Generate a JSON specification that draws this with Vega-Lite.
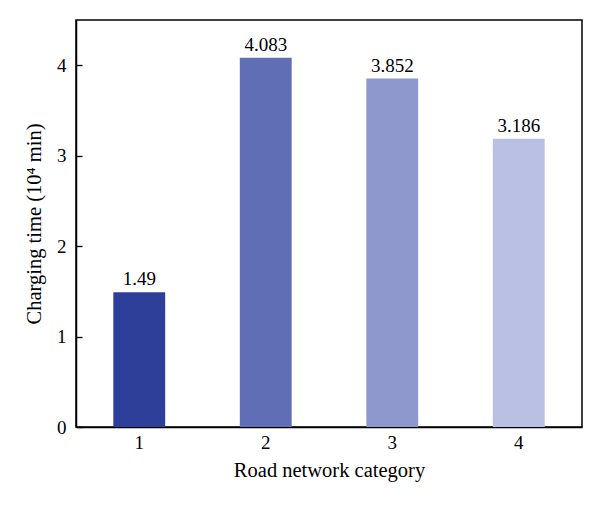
{
  "$schema": "https://vega.github.io/schema/vega-lite/v6.json",
  "autosize": "none",
  "padding": {"left": 76, "top": 20, "right": 18, "bottom": 79},
  "width": 506,
  "height": 407,
  "background": "white",
  "data": {"values": [
    {"category": "1", "time": 1.49, "label": "1.49"},
    {"category": "2", "time": 4.083, "label": "4.083"},
    {"category": "3", "time": 3.852, "label": "3.852"},
    {"category": "4", "time": 3.186, "label": "3.186"}
  ]},
  "config": {
    "font": "Liberation Serif",
    "view": {"stroke": "black", "strokeWidth": 1.5},
    "axis": {
      "labelFont": "Liberation Serif",
      "titleFont": "Liberation Serif",
      "labelFontSize": 19,
      "titleFontSize": 20.5,
      "titleFontWeight": "normal",
      "labelColor": "black",
      "titleColor": "black",
      "domainColor": "black",
      "domainWidth": 1.5,
      "tickColor": "black",
      "tickWidth": 1.3,
      "grid": false
    }
  },
  "encoding": {
    "x": {
      "field": "category",
      "type": "nominal",
      "scale": {"paddingInner": 0.59, "paddingOuter": 0.295},
      "axis": {"title": "Road network category", "labelAngle": 0, "tickSize": -6, "labelPadding": 12, "titlePadding": 8}
    },
    "y": {
      "field": "time",
      "type": "quantitative",
      "scale": {"domain": [0, 4.5], "nice": false},
      "axis": {"title": "Charging time (10⁴ min)", "values": [0, 1, 2, 3, 4], "tickSize": -6, "labelPadding": 16, "titlePadding": 12}
    }
  },
  "layer": [
    {
      "mark": {"type": "bar"},
      "encoding": {
        "color": {
          "field": "category",
          "type": "nominal",
          "scale": {"range": ["#2E3F99", "#5F6EB5", "#8F98CC", "#BAC0E3"]},
          "legend": null
        }
      }
    },
    {
      "mark": {"type": "text", "baseline": "bottom", "dy": -3, "fontSize": 19, "font": "Liberation Serif", "color": "black"},
      "encoding": {"text": {"field": "label"}}
    }
  ]
}
